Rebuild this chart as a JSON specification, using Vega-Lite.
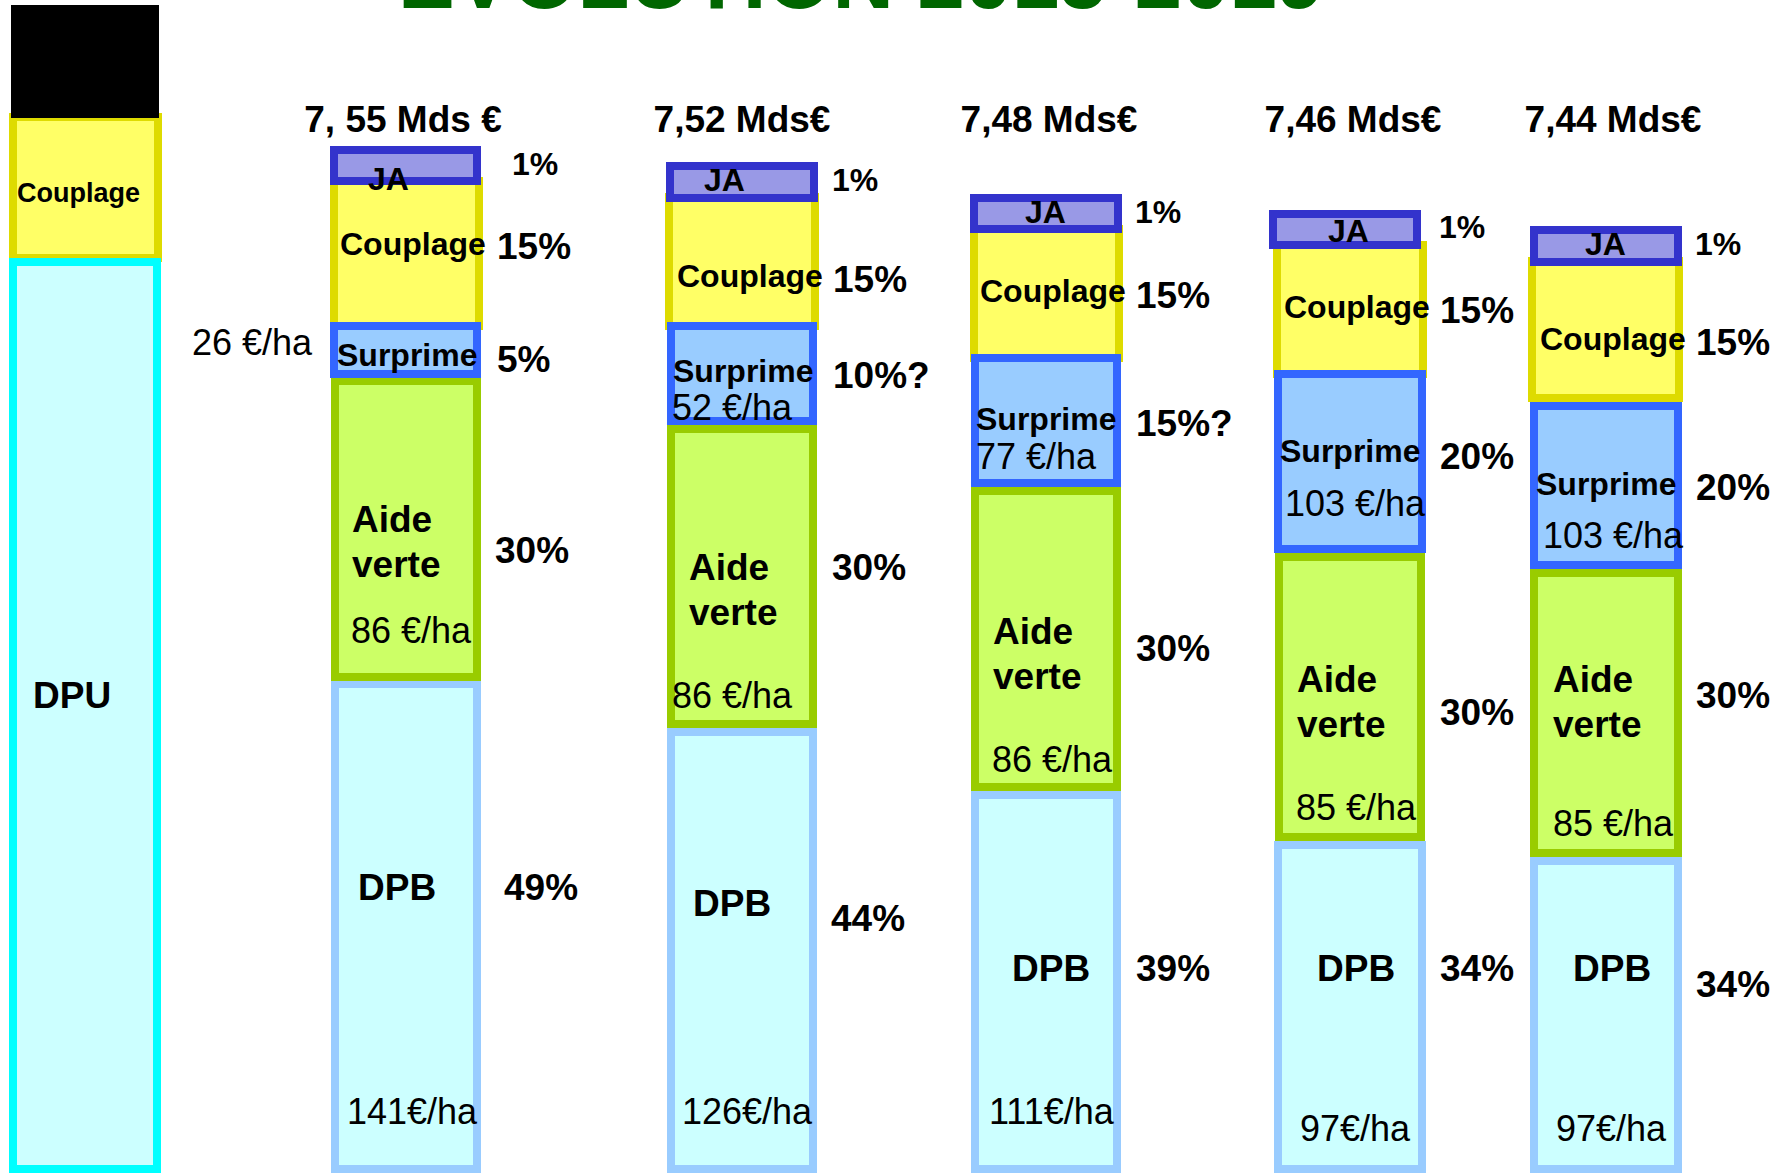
{
  "$schema": "https://vega.github.io/schema/vega-lite/v6.json",
  "autosize": {"type": "none"},
  "width": 1777,
  "height": 1174,
  "padding": 0,
  "background": "white",
  "config": {"view": {"stroke": null}},
  "datasets": {
    "blocs": [
      {"colonne": 0, "poste": "Couplage", "x0": 13, "x1": 158, "y0": 117, "y1": 258},
      {"colonne": 0, "poste": "DPU", "x0": 13, "x1": 157, "y0": 262, "y1": 1169},
      {"colonne": 0, "poste": "Masque", "x0": 15, "x1": 155, "y0": 9, "y1": 114},
      {"colonne": 1, "poste": "DPB", "x0": 335, "x1": 477, "y0": 684, "y1": 1169},
      {"colonne": 1, "poste": "Aide verte", "x0": 335, "x1": 477, "y0": 381, "y1": 677},
      {"colonne": 1, "poste": "Couplage", "x0": 334, "x1": 479, "y0": 181, "y1": 326},
      {"colonne": 1, "poste": "Surprime", "x0": 334, "x1": 477, "y0": 326, "y1": 374},
      {"colonne": 1, "poste": "JA", "x0": 334, "x1": 477, "y0": 150, "y1": 181},
      {"colonne": 2, "poste": "DPB", "x0": 671, "x1": 813, "y0": 732, "y1": 1169},
      {"colonne": 2, "poste": "Aide verte", "x0": 671, "x1": 813, "y0": 429, "y1": 724},
      {"colonne": 2, "poste": "Couplage", "x0": 669, "x1": 815, "y0": 197, "y1": 326},
      {"colonne": 2, "poste": "Surprime", "x0": 671, "x1": 813, "y0": 326, "y1": 421},
      {"colonne": 2, "poste": "JA", "x0": 670, "x1": 814, "y0": 166, "y1": 198},
      {"colonne": 3, "poste": "DPB", "x0": 975, "x1": 1117, "y0": 795, "y1": 1169},
      {"colonne": 3, "poste": "Aide verte", "x0": 975, "x1": 1117, "y0": 491, "y1": 787},
      {"colonne": 3, "poste": "Couplage", "x0": 974, "x1": 1119, "y0": 229, "y1": 358},
      {"colonne": 3, "poste": "Surprime", "x0": 975, "x1": 1117, "y0": 358, "y1": 483},
      {"colonne": 3, "poste": "JA", "x0": 974, "x1": 1118, "y0": 198, "y1": 229},
      {"colonne": 4, "poste": "DPB", "x0": 1278, "x1": 1422, "y0": 845, "y1": 1169},
      {"colonne": 4, "poste": "Aide verte", "x0": 1279, "x1": 1421, "y0": 557, "y1": 837},
      {"colonne": 4, "poste": "Couplage", "x0": 1277, "x1": 1423, "y0": 245, "y1": 374},
      {"colonne": 4, "poste": "Surprime", "x0": 1278, "x1": 1422, "y0": 374, "y1": 549},
      {"colonne": 4, "poste": "JA", "x0": 1273, "x1": 1417, "y0": 214, "y1": 245},
      {"colonne": 5, "poste": "DPB", "x0": 1534, "x1": 1678, "y0": 861, "y1": 1169},
      {"colonne": 5, "poste": "Aide verte", "x0": 1534, "x1": 1678, "y0": 573, "y1": 853},
      {"colonne": 5, "poste": "Couplage", "x0": 1532, "x1": 1679, "y0": 261, "y1": 398},
      {"colonne": 5, "poste": "Surprime", "x0": 1534, "x1": 1678, "y0": 406, "y1": 565},
      {"colonne": 5, "poste": "JA", "x0": 1534, "x1": 1678, "y0": 230, "y1": 262}
    ],
    "textes": [
      {"genre": "titre", "x": 398, "y": 8, "texte": "EVOLUTION 2015-2019"},
      {"genre": "total", "x": 403, "y": 132, "texte": "7, 55 Mds €"},
      {"genre": "total", "x": 742, "y": 132, "texte": "7,52 Mds€"},
      {"genre": "total", "x": 1049, "y": 132, "texte": "7,48 Mds€"},
      {"genre": "total", "x": 1353, "y": 132, "texte": "7,46 Mds€"},
      {"genre": "total", "x": 1613, "y": 132, "texte": "7,44 Mds€"},
      {"genre": "poste_dpu", "x": 17, "y": 202, "texte": "Couplage"},
      {"genre": "poste", "x": 33, "y": 708, "texte": "DPU"},
      {"genre": "montant", "x": 192, "y": 355, "texte": "26 €/ha"},
      {"genre": "poste_court", "x": 368, "y": 190, "texte": "JA"},
      {"genre": "part_ja", "x": 512, "y": 175, "texte": "1%"},
      {"genre": "poste_court", "x": 340, "y": 255, "texte": "Couplage"},
      {"genre": "part", "x": 497, "y": 259, "texte": "15%"},
      {"genre": "poste_court", "x": 337, "y": 366, "texte": "Surprime"},
      {"genre": "part", "x": 497, "y": 372, "texte": "5%"},
      {"genre": "poste", "x": 352, "y": 532, "texte": "Aide"},
      {"genre": "poste", "x": 352, "y": 577, "texte": "verte"},
      {"genre": "montant", "x": 351, "y": 643, "texte": "86 €/ha"},
      {"genre": "part", "x": 495, "y": 563, "texte": "30%"},
      {"genre": "poste", "x": 358, "y": 900, "texte": "DPB"},
      {"genre": "part", "x": 504, "y": 900, "texte": "49%"},
      {"genre": "montant", "x": 347, "y": 1124, "texte": "141€/ha"},
      {"genre": "poste_court", "x": 704, "y": 191, "texte": "JA"},
      {"genre": "part_ja", "x": 832, "y": 191, "texte": "1%"},
      {"genre": "poste_court", "x": 677, "y": 287, "texte": "Couplage"},
      {"genre": "part", "x": 833, "y": 292, "texte": "15%"},
      {"genre": "poste_court", "x": 673, "y": 382, "texte": "Surprime"},
      {"genre": "montant", "x": 672, "y": 420, "texte": "52 €/ha"},
      {"genre": "part", "x": 833, "y": 388, "texte": "10%?"},
      {"genre": "poste", "x": 689, "y": 580, "texte": "Aide"},
      {"genre": "poste", "x": 689, "y": 625, "texte": "verte"},
      {"genre": "montant", "x": 672, "y": 708, "texte": "86 €/ha"},
      {"genre": "part", "x": 832, "y": 580, "texte": "30%"},
      {"genre": "poste", "x": 693, "y": 916, "texte": "DPB"},
      {"genre": "part", "x": 831, "y": 931, "texte": "44%"},
      {"genre": "montant", "x": 682, "y": 1124, "texte": "126€/ha"},
      {"genre": "poste_court", "x": 1025, "y": 223, "texte": "JA"},
      {"genre": "part_ja", "x": 1135, "y": 223, "texte": "1%"},
      {"genre": "poste_court", "x": 980, "y": 302, "texte": "Couplage"},
      {"genre": "part", "x": 1136, "y": 308, "texte": "15%"},
      {"genre": "poste_court", "x": 976, "y": 430, "texte": "Surprime"},
      {"genre": "montant", "x": 976, "y": 469, "texte": "77 €/ha"},
      {"genre": "part", "x": 1136, "y": 436, "texte": "15%?"},
      {"genre": "poste", "x": 993, "y": 644, "texte": "Aide"},
      {"genre": "poste", "x": 993, "y": 689, "texte": "verte"},
      {"genre": "montant", "x": 992, "y": 772, "texte": "86 €/ha"},
      {"genre": "part", "x": 1136, "y": 661, "texte": "30%"},
      {"genre": "poste", "x": 1012, "y": 981, "texte": "DPB"},
      {"genre": "part", "x": 1136, "y": 981, "texte": "39%"},
      {"genre": "montant", "x": 989, "y": 1124, "texte": "111€/ha"},
      {"genre": "poste_court", "x": 1328, "y": 242, "texte": "JA"},
      {"genre": "part_ja", "x": 1439, "y": 238, "texte": "1%"},
      {"genre": "poste_court", "x": 1284, "y": 318, "texte": "Couplage"},
      {"genre": "part", "x": 1440, "y": 323, "texte": "15%"},
      {"genre": "poste_court", "x": 1280, "y": 462, "texte": "Surprime"},
      {"genre": "montant", "x": 1285, "y": 516, "texte": "103 €/ha"},
      {"genre": "part", "x": 1440, "y": 469, "texte": "20%"},
      {"genre": "poste", "x": 1297, "y": 692, "texte": "Aide"},
      {"genre": "poste", "x": 1297, "y": 737, "texte": "verte"},
      {"genre": "montant", "x": 1296, "y": 820, "texte": "85 €/ha"},
      {"genre": "part", "x": 1440, "y": 725, "texte": "30%"},
      {"genre": "poste", "x": 1317, "y": 981, "texte": "DPB"},
      {"genre": "part", "x": 1440, "y": 981, "texte": "34%"},
      {"genre": "montant", "x": 1300, "y": 1141, "texte": "97€/ha"},
      {"genre": "poste_court", "x": 1585, "y": 255, "texte": "JA"},
      {"genre": "part_ja", "x": 1695, "y": 255, "texte": "1%"},
      {"genre": "poste_court", "x": 1540, "y": 350, "texte": "Couplage"},
      {"genre": "part", "x": 1696, "y": 355, "texte": "15%"},
      {"genre": "poste_court", "x": 1536, "y": 495, "texte": "Surprime"},
      {"genre": "montant", "x": 1543, "y": 548, "texte": "103 €/ha"},
      {"genre": "part", "x": 1696, "y": 500, "texte": "20%"},
      {"genre": "poste", "x": 1553, "y": 692, "texte": "Aide"},
      {"genre": "poste", "x": 1553, "y": 737, "texte": "verte"},
      {"genre": "montant", "x": 1553, "y": 836, "texte": "85 €/ha"},
      {"genre": "part", "x": 1696, "y": 708, "texte": "30%"},
      {"genre": "poste", "x": 1573, "y": 981, "texte": "DPB"},
      {"genre": "part", "x": 1696, "y": 997, "texte": "34%"},
      {"genre": "montant", "x": 1556, "y": 1141, "texte": "97€/ha"}
    ]
  },
  "resolve": {"scale": {"x": "shared", "y": "shared"}},
  "layer": [
    {
      "data": {"name": "blocs"},
      "mark": {"type": "rect", "strokeWidth": 8},
      "encoding": {
        "x": {"field": "x0", "type": "quantitative", "scale": {"domain": [0, 1777], "nice": false, "zero": false}, "axis": null},
        "x2": {"field": "x1"},
        "y": {"field": "y0", "type": "quantitative", "scale": {"domain": [0, 1174], "nice": false, "zero": false, "reverse": true}, "axis": null},
        "y2": {"field": "y1"},
        "fill": {"field": "poste", "type": "nominal", "legend": null,
          "scale": {"domain": ["Masque", "DPU", "Couplage", "JA", "Surprime", "Aide verte", "DPB"],
                    "range": ["#000000", "#ccffff", "#ffff66", "#9999e6", "#99ccff", "#ccff66", "#ccffff"]}},
        "stroke": {"field": "poste", "type": "nominal", "legend": null,
          "scale": {"domain": ["Masque", "DPU", "Couplage", "JA", "Surprime", "Aide verte", "DPB"],
                    "range": ["#000000", "#00ffff", "#dedb00", "#3333cc", "#3366ff", "#99cc00", "#99ccff"]}}
      }
    },
    {
      "data": {"name": "textes"},
      "transform": [{"filter": "datum.genre === 'titre'"}],
      "mark": {"type": "text", "align": "left", "baseline": "alphabetic", "font": "Liberation Sans", "fontWeight": "bold", "fontSize": 85, "color": "#006600"},
      "encoding": {
        "x": {"field": "x", "type": "quantitative"},
        "y": {"field": "y", "type": "quantitative"},
        "text": {"field": "texte"}
      }
    },
    {
      "data": {"name": "textes"},
      "transform": [{"filter": "datum.genre === 'total'"}],
      "mark": {"type": "text", "align": "center", "baseline": "alphabetic", "font": "Liberation Sans", "fontWeight": "bold", "fontSize": 37, "color": "#000000"},
      "encoding": {
        "x": {"field": "x", "type": "quantitative"},
        "y": {"field": "y", "type": "quantitative"},
        "text": {"field": "texte"}
      }
    },
    {
      "data": {"name": "textes"},
      "transform": [{"filter": "datum.genre === 'poste' || datum.genre === 'part'"}],
      "mark": {"type": "text", "align": "left", "baseline": "alphabetic", "font": "Liberation Sans", "fontWeight": "bold", "fontSize": 37, "color": "#000000"},
      "encoding": {
        "x": {"field": "x", "type": "quantitative"},
        "y": {"field": "y", "type": "quantitative"},
        "text": {"field": "texte"}
      }
    },
    {
      "data": {"name": "textes"},
      "transform": [{"filter": "datum.genre === 'poste_court' || datum.genre === 'part_ja'"}],
      "mark": {"type": "text", "align": "left", "baseline": "alphabetic", "font": "Liberation Sans", "fontWeight": "bold", "fontSize": 32, "color": "#000000"},
      "encoding": {
        "x": {"field": "x", "type": "quantitative"},
        "y": {"field": "y", "type": "quantitative"},
        "text": {"field": "texte"}
      }
    },
    {
      "data": {"name": "textes"},
      "transform": [{"filter": "datum.genre === 'poste_dpu'"}],
      "mark": {"type": "text", "align": "left", "baseline": "alphabetic", "font": "Liberation Sans", "fontWeight": "bold", "fontSize": 27, "color": "#000000"},
      "encoding": {
        "x": {"field": "x", "type": "quantitative"},
        "y": {"field": "y", "type": "quantitative"},
        "text": {"field": "texte"}
      }
    },
    {
      "data": {"name": "textes"},
      "transform": [{"filter": "datum.genre === 'montant'"}],
      "mark": {"type": "text", "align": "left", "baseline": "alphabetic", "font": "Liberation Sans", "fontWeight": "normal", "fontSize": 36, "color": "#000000"},
      "encoding": {
        "x": {"field": "x", "type": "quantitative"},
        "y": {"field": "y", "type": "quantitative"},
        "text": {"field": "texte"}
      }
    }
  ]
}
